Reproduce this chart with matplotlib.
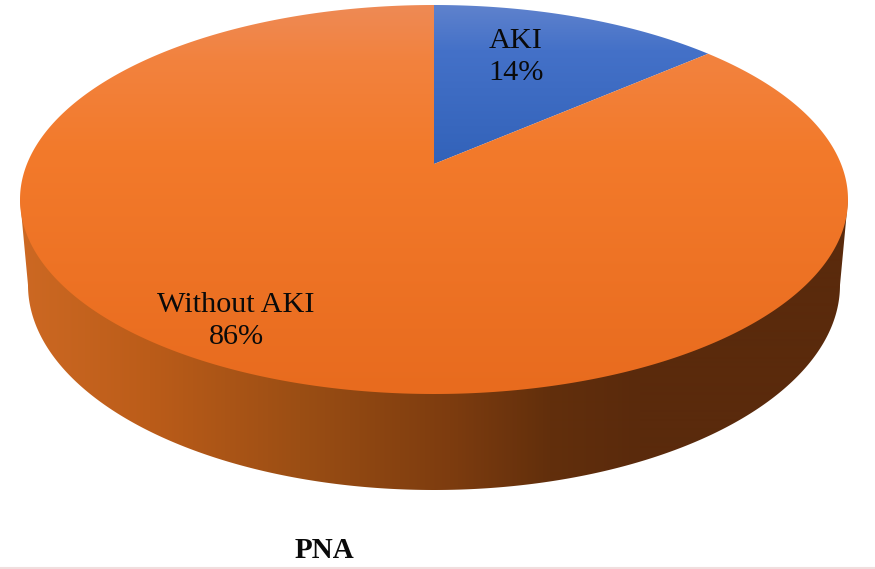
import numpy as np
import matplotlib
matplotlib.use("Agg")
import matplotlib.pyplot as plt
from matplotlib.patches import Polygon

# Data
labels = ["AKI", "Without AKI"]
values = [13.6, 86.4]
label_pos = [(516, 57), (236, 321)]
title = "PNA"

# Colour stops: position in pixels, then RGB
blue_stops = ([5, 50, 164], [(95, 130, 205), (68, 113, 200), (50, 98, 185)])
orange_stops = ([5, 60, 150, 394], [(238, 138, 85), (242, 130, 62), (243, 122, 43), (232, 107, 30)])
wall_stops = ([20, 150, 300, 450, 550, 640, 848],
              [(205, 105, 35), (187, 92, 25), (155, 78, 20), (125, 60, 15), (98, 47, 12), (90, 42, 12), (90, 42, 12)])

# Geometry of the disc in pixels
cx, cy, a, b = 434, 199.5, 414, 194.5
apex_y = 164
low_cy, low_a, low_b = 285, 406, 205
p = (cy - apex_y) / b
W, H = 875, 569


def project(xy):
    # perspective view of the unit circle, centre lands on the apex
    u, v = xy[:, 0], xy[:, 1]
    d = 1 + p * v
    x = u * np.sqrt(1 - p ** 2) / d
    y = (v + p) / d
    return np.column_stack([cx + a * x, cy - b * y])


def gradient(stops, n, axis):
    pos, cols = stops
    t = np.arange(n)
    cols = np.array(cols) / 255
    g = np.column_stack([np.interp(t, pos, cols[:, i]) for i in range(3)])
    return g[:, None, :] if axis == "y" else g[None, :, :]


fig = plt.figure(figsize=(W / 100, H / 100), dpi=100)
ax = fig.add_axes([0, 0, 1, 1])

wedges, _ = ax.pie(values, startangle=90, counterclock=False, radius=1)

# side wall
t = np.linspace(np.pi, 0, 400)
low = np.column_stack([cx + low_a * np.cos(t), low_cy + low_b * np.sin(t)])
wall_pts = np.vstack([[[cx - a, cy]], low, [[cx + a, cy]]])
wall = Polygon(wall_pts, closed=True, fc="none", ec="none", transform=ax.transData)
ax.add_patch(wall)
im = ax.imshow(gradient(wall_stops, W, "x"), extent=(0, W, H, 0), aspect="auto", interpolation="bilinear", zorder=1)
im.set_clip_path(wall)

# top face, angles of the wedges come from the pie
for wedge, stops in zip(wedges, [blue_stops, orange_stops]):
    ang = np.radians(np.linspace(wedge.theta1, wedge.theta2, 600))
    arc = np.column_stack([np.cos(ang), np.sin(ang)])
    pts = project(np.vstack([[[0, 0]], arc]))
    wedge.set_visible(False)
    face = Polygon(pts, closed=True, fc="none", ec="none", transform=ax.transData)
    ax.add_patch(face)
    im = ax.imshow(gradient(stops, H, "y"), extent=(0, W, H, 0), aspect="auto", interpolation="bilinear", zorder=2)
    im.set_clip_path(face)

# labels
for name, val, pos in zip(labels, values, label_pos):
    ax.text(pos[0], pos[1], f"{name}\n{val:.0f}%", family="Liberation Serif", fontsize=21.8,
            ha="center", va="center", linespacing=1.28, color="#0a0a0a", zorder=5)
ax.text(324, 550, title, family="Liberation Serif", fontsize=21, fontweight="bold",
        ha="center", va="center", color="#0a0a0a", zorder=5)

# thin line on the bottom edge
ax.axhline(568, color="#f0dede", lw=1.5, zorder=5)

ax.set_aspect("auto")
ax.set_xlim(0, W)
ax.set_ylim(H, 0)
ax.axis("off")

fig.savefig("out.png", dpi=100)
